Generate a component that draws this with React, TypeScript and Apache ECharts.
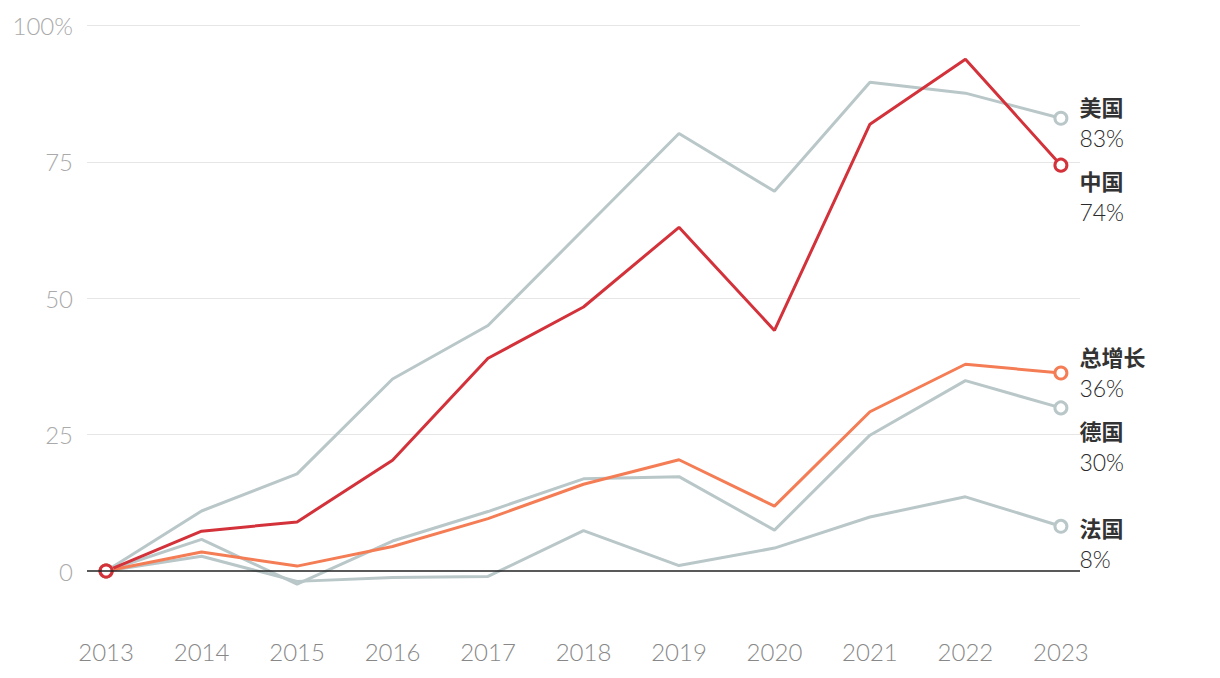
import React, { useEffect, useRef } from "react";
import * as echarts from "echarts";

const years = [2013, 2014, 2015, 2016, 2017, 2018, 2019, 2020, 2021, 2022, 2023];
const usa = [0, 11, 17.8, 35.2, 45, 62.6, 80.2, 69.6, 89.6, 87.6, 83];
const china = [0, 7.3, 9.0, 20.3, 39, 48.4, 63, 44.1, 81.9, 93.8, 74.4];
const total = [0, 3.5, 0.9, 4.5, 9.6, 15.9, 20.4, 11.9, 29.2, 37.9, 36.3];
const germany = [0, 5.8, -2.4, 5.5, 10.9, 16.9, 17.3, 7.5, 24.9, 34.9, 29.9];
const france = [0, 2.7, -1.9, -1.2, -1.0, 7.4, 1.0, 4.2, 9.9, 13.6, 8.2];
const yTicks = [0, 25, 50, 75, 100];

const RED = "#d3323a";
const ORANGE = "#f47d55";
const GRAY = "#b9c7c9";
const NUM_FONT = "Lato";

function build(name: string, label: string, values: number[], color: string, offY: number) {
  const last = values.length - 1;
  return {
    name,
    type: "line",
    symbol: "none",
    lineStyle: { color, width: 3 },
    itemStyle: { color: "#fff", borderColor: color, borderWidth: 3 },
    data: values.map((v, i) => {
      const item: any = { value: [years[i], v] };
      if (i === 0 || i === last) {
        item.symbol = "circle";
        item.symbolSize = 12;
      }
      if (i === last) {
        item.label = {
          show: true,
          position: "right",
          distance: 11,
          offset: [0, offY],
          formatter: `{n|${label}}\n{v|${Math.round(v)}%}`,
          rich: {
            n: { fontSize: 22, fontWeight: "bold", color: "#333", lineHeight: 32, fontFamily: "Noto Sans CJK SC" },
            v: { fontSize: 23, fontWeight: 300, color: "#2a2a2a", lineHeight: 32, fontFamily: NUM_FONT },
          },
        };
      }
      return item;
    }),
    z: 2,
  };
}

export default function App() {
  const ref = useRef<HTMLDivElement>(null);
  useEffect(() => {
    document.body.style.margin = "0";
    const chart = echarts.init(ref.current!, null, { renderer: "svg" });
    const T = "rgba(0,0,0,0)";
    const splitColors = [T, T, T, "#e6e6e6", T, "#e6e6e6", T, "#e6e6e6", T, "#e6e6e6"];
    const series: any[] = [
      build("法国", "法国", france, GRAY, 16.5),
      build("德国", "德国", germany, GRAY, 38.5),
      build("美国", "美国", usa, GRAY, 4),
      build("总增长", "总增长", total, ORANGE, -1),
      build("中国", "中国", china, RED, 30.5),
    ];
    series[0].markLine = {
      silent: true,
      symbol: "none",
      label: { show: false },
      lineStyle: { color: "#222", width: 1.5, type: "solid" },
      data: [{ yAxis: 0 }],
    };
    chart.setOption({
      animation: false,
      backgroundColor: "#fff",
      grid: { left: 87, right: 140, top: 25.5, bottom: 38.8 },
      xAxis: {
        type: "value",
        min: 2012.8,
        max: 2023.2,
        axisLine: { show: false },
        axisTick: { show: false },
        splitLine: { show: false },
        axisLabel: {
          customValues: years,
          formatter: (v: number) => String(v),
          color: "#888",
          fontSize: 24,
          fontWeight: 300,
          margin: 0,
          fontFamily: NUM_FONT,
        },
      },
      yAxis: {
        type: "value",
        min: -12.5,
        max: 100,
        interval: 12.5,
        axisLine: { show: false },
        axisTick: { show: false },
        axisLabel: {
          formatter: (v: number) => (yTicks.includes(v) ? (v === 100 ? "100%" : String(v)) : ""),
          color: "#aaa",
          fontSize: 24,
          fontWeight: 300,
          margin: 14,
          fontFamily: NUM_FONT,
        },
        splitLine: { show: true, lineStyle: { color: splitColors, width: 1 } },
      },
      series,
    });
    return () => chart.dispose();
  }, []);
  return <div ref={ref} style={{ width: 1220, height: 678 }} />;
}
